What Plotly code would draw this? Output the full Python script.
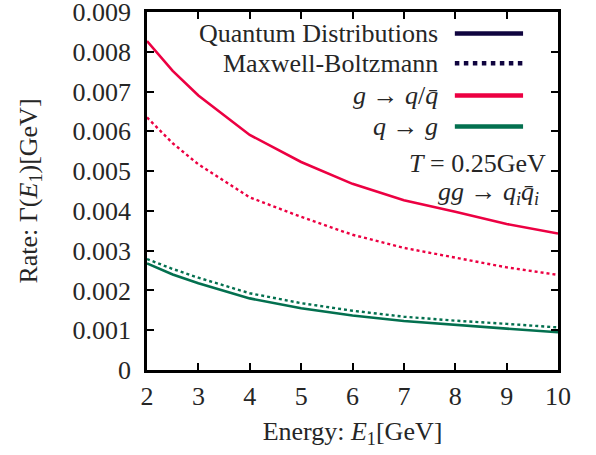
import plotly.graph_objects as go

# Data (Rate in GeV, energies in GeV)
energy = [2, 2.5, 3, 4, 5, 6, 7, 8, 9, 10]
g_to_q_quantum = [0.00827, 0.00752, 0.00690, 0.00591, 0.00523, 0.00468, 0.00427, 0.00398, 0.00367, 0.00343]
g_to_q_mb = [0.00635, 0.00570, 0.00517, 0.00434, 0.00385, 0.00340, 0.00307, 0.00282, 0.00258, 0.00239]
q_to_g_quantum = [0.00268, 0.00240, 0.00218, 0.00180, 0.00155, 0.00137, 0.00123, 0.00113, 0.00104, 0.00095]
q_to_g_mb = [0.00279, 0.00254, 0.00232, 0.00193, 0.00168, 0.00149, 0.00134, 0.00124, 0.00116, 0.00107]

x_ticks = [2, 3, 4, 5, 6, 7, 8, 9, 10]
y_ticks = [0, 0.001, 0.002, 0.003, 0.004, 0.005, 0.006, 0.007, 0.008, 0.009]
y_ticktext = ["0", "0.001", "0.002", "0.003", "0.004", "0.005", "0.006", "0.007", "0.008", "0.009"]

legend_labels = ["Quantum Distributions", "Maxwell-Boltzmann", "<i>g</i> → <i>q</i>/<i>q̄</i>", "<i>q</i> → <i>g</i>"]

RED = "#ec0042"
GREEN = "#03704f"
NAVY = "#10053f"
FONT = "Liberation Serif"
FS = 26
TXT = "#262626"

fig = go.Figure()
fig.add_trace(go.Scatter(x=energy, y=g_to_q_quantum, mode="lines", line=dict(color=RED, width=2.6), showlegend=False))
fig.add_trace(go.Scatter(x=energy, y=g_to_q_mb, mode="lines", line=dict(color=RED, width=2.4, dash="dot"), showlegend=False))
fig.add_trace(go.Scatter(x=energy, y=q_to_g_quantum, mode="lines", line=dict(color=GREEN, width=2.6), showlegend=False))
fig.add_trace(go.Scatter(x=energy, y=q_to_g_mb, mode="lines", line=dict(color=GREEN, width=2.4, dash="dot"), showlegend=False))

# Custom legend (text on the left, sample on the right)
legend_styles = [(NAVY, "solid"), (NAVY, "dot"), (RED, "solid"), (GREEN, "solid")]
row_y = [0.940, 0.857, 0.767, 0.680]
for label, (col, dash), yy in zip(legend_labels, legend_styles, row_y):
    fig.add_annotation(x=0.714, y=yy, xref="paper", yref="paper", text=label, showarrow=False,
                       xanchor="right", yanchor="middle", font=dict(family=FONT, size=FS, color=TXT))
    fig.add_shape(type="line", xref="paper", yref="paper", x0=0.749, x1=0.915, y0=yy, y1=yy,
                  line=dict(color=col, width=4.5, dash=dash))

fig.add_annotation(x=0.975, y=0.578, xref="paper", yref="paper", text="<i>T</i> = 0.25GeV", showarrow=False,
                   xanchor="right", yanchor="middle", font=dict(family=FONT, size=FS, color=TXT))
fig.add_annotation(x=0.958, y=0.494, xref="paper", yref="paper", text="<i>gg</i> → <i>q<sub>i</sub>q̄<sub>i</sub></i>",
                   showarrow=False, xanchor="right", yanchor="middle", font=dict(family=FONT, size=FS, color=TXT))

axis_common = dict(showline=True, linecolor="black", linewidth=2.5, mirror="allticks", ticks="inside",
                   ticklen=7, tickwidth=2, tickcolor="black", showgrid=False, zeroline=False,
                   automargin=False, ticklabeloverflow="allow", tickfont=dict(family=FONT, size=FS, color=TXT))

fig.update_xaxes(range=[2, 10], tickvals=x_ticks, ticklabelstandoff=1,
                 title=dict(text="Energy: <i>E</i><sub>1</sub>[GeV]",
                            font=dict(family=FONT, size=FS, color=TXT), standoff=12), **axis_common)
fig.update_yaxes(range=[0, 0.009], tickvals=y_ticks, ticktext=y_ticktext, ticklabelstandoff=8,
                 title=dict(text="Rate: Γ(<i>E</i><sub>1</sub>)[GeV]", font=dict(family=FONT, size=FS, color=TXT),
                            standoff=28),
                 **axis_common)

fig.update_layout(width=596, height=455, margin=dict(l=147, r=38, t=12, b=85),
                  plot_bgcolor="white", paper_bgcolor="white", showlegend=False)

fig.write_html("out.html")
